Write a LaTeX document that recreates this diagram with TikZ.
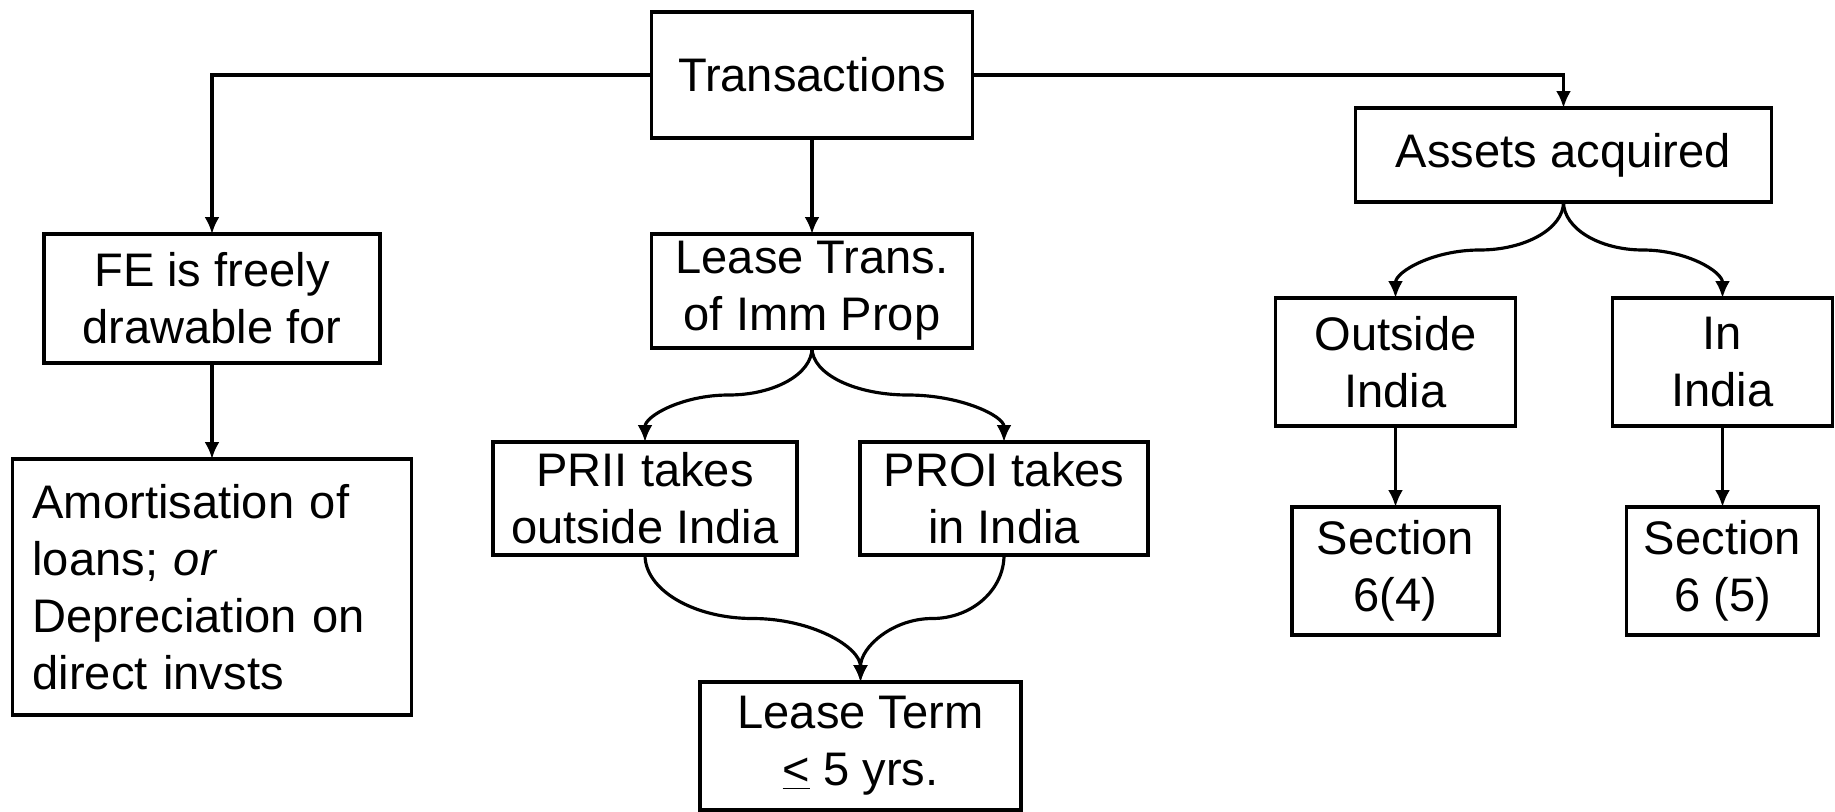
\documentclass[tikz,border=0pt]{standalone}
\usepackage{fontspec}
\setmainfont{Liberation Sans}
\usetikzlibrary{arrows.meta,positioning,calc}

\begin{document}
\begin{tikzpicture}[>={Latex[length=0.34cm,width=0.3cm]}, line width=1.8pt]
  \tikzset{block/.style= {draw, rectangle, align=center, line width=1.9pt,
      inner xsep=0.2cm, inner ysep=0.02cm, outer sep=0pt, font=\fontsize{26.8}{32.4}\selectfont}}
  \useasboundingbox (0,0) rectangle (36.7,-16.22);
  \node[block, minimum width=6.42cm, minimum height=2.52cm] (trans) at (16.24,-1.5) {Transactions};
  \node[block, minimum width=6.72cm, minimum height=2.58cm, below left =1.92cm and 5.43cm of trans] (fe) {FE is freely\\drawable for};
  \node[block, text width=7.18cm, align=left, inner xsep=0.4cm, minimum height=5.12cm,
    below =1.92cm of fe] (amort) {Amortisation of\\loans; \textit{or}\\Depreciation on\\direct invsts};
  \node[block, minimum width=6.42cm, minimum height=2.28cm, below =1.92cm of trans] (lease) {Lease Trans.\\of Imm Prop};
  \node[block, minimum width=6.08cm, minimum height=2.26cm, below =1.88cm of lease, xshift=-3.34cm] (prii) {PRII takes\\outside India};
  \node[block, minimum width=5.76cm, minimum height=2.26cm, right =1.26cm of prii] (proi) {PROI takes\\in India};
  \node[block, minimum width=6.42cm, minimum height=2.56cm, below =2.54cm of prii, xshift=4.31cm] (term) {Lease Term\\\underline{<} 5 yrs.};
  \node[block, minimum width=8.32cm, minimum height=1.88cm, right =7.66cm of trans, yshift=-1.6cm] (assets) {Assets acquired};
  \node[block, minimum width=4.8cm, minimum height=2.56cm, below =1.92cm of assets, xshift=-3.36cm] (outside) {Outside\\India};
  \node[block, minimum width=4.4cm, minimum height=2.56cm, right =1.94cm of outside] (inind) {In\\India};
  \node[block, minimum width=4.14cm, minimum height=2.56cm, below =1.62cm of outside] (sec4) {Section\\6(4)};
  \node[block, minimum width=3.84cm, minimum height=2.56cm, below =1.62cm of inind] (sec5) {Section\\6 (5)};

  \path[draw, ->] (trans) -| (fe);
  \path[draw, ->] (trans) -| (assets);
  \path[draw, ->] (trans) edge (lease);
  \path[draw, ->] (fe) edge (amort);
  \path[draw, ->] (outside) edge (sec4);
  \path[draw, ->] (inind) edge (sec5);
  % curly splits and joins
  \path[draw, ->] (lease.south) .. controls +(0,-0.52) and +(0.92,0) .. ($(lease.south)!0.5!(prii.north)$)
    .. controls +(-0.92,0) and +(0,0.52) .. (prii.north);
  \path[draw, ->] (lease.south) .. controls +(0,-0.52) and +(-1.06,0) .. ($(lease.south)!0.5!(proi.north)$)
    .. controls +(1.06,0) and +(0,0.52) .. (proi.north);
  \path[draw, ->] (prii.south) .. controls +(0,-0.7) and +(-1.18,0) .. ($(prii.south)!0.5!(term.north)$)
    .. controls +(1.18,0) and +(0,0.7) .. (term.north);
  \path[draw, ->] (proi.south) .. controls +(0,-0.7) and +(0.79,0) .. ($(proi.south)!0.5!(term.north)$)
    .. controls +(-0.79,0) and +(0,0.7) .. (term.north);
  \path[draw, ->] (assets.south) .. controls +(0,-0.53) and +(0.92,0) .. ($(assets.south)!0.5!(outside.north)$)
    .. controls +(-0.92,0) and +(0,0.53) .. (outside.north);
  \path[draw, ->] (assets.south) .. controls +(0,-0.53) and +(-0.87,0) .. ($(assets.south)!0.5!(inind.north)$)
    .. controls +(0.87,0) and +(0,0.53) .. (inind.north);
\end{tikzpicture}
\end{document}
